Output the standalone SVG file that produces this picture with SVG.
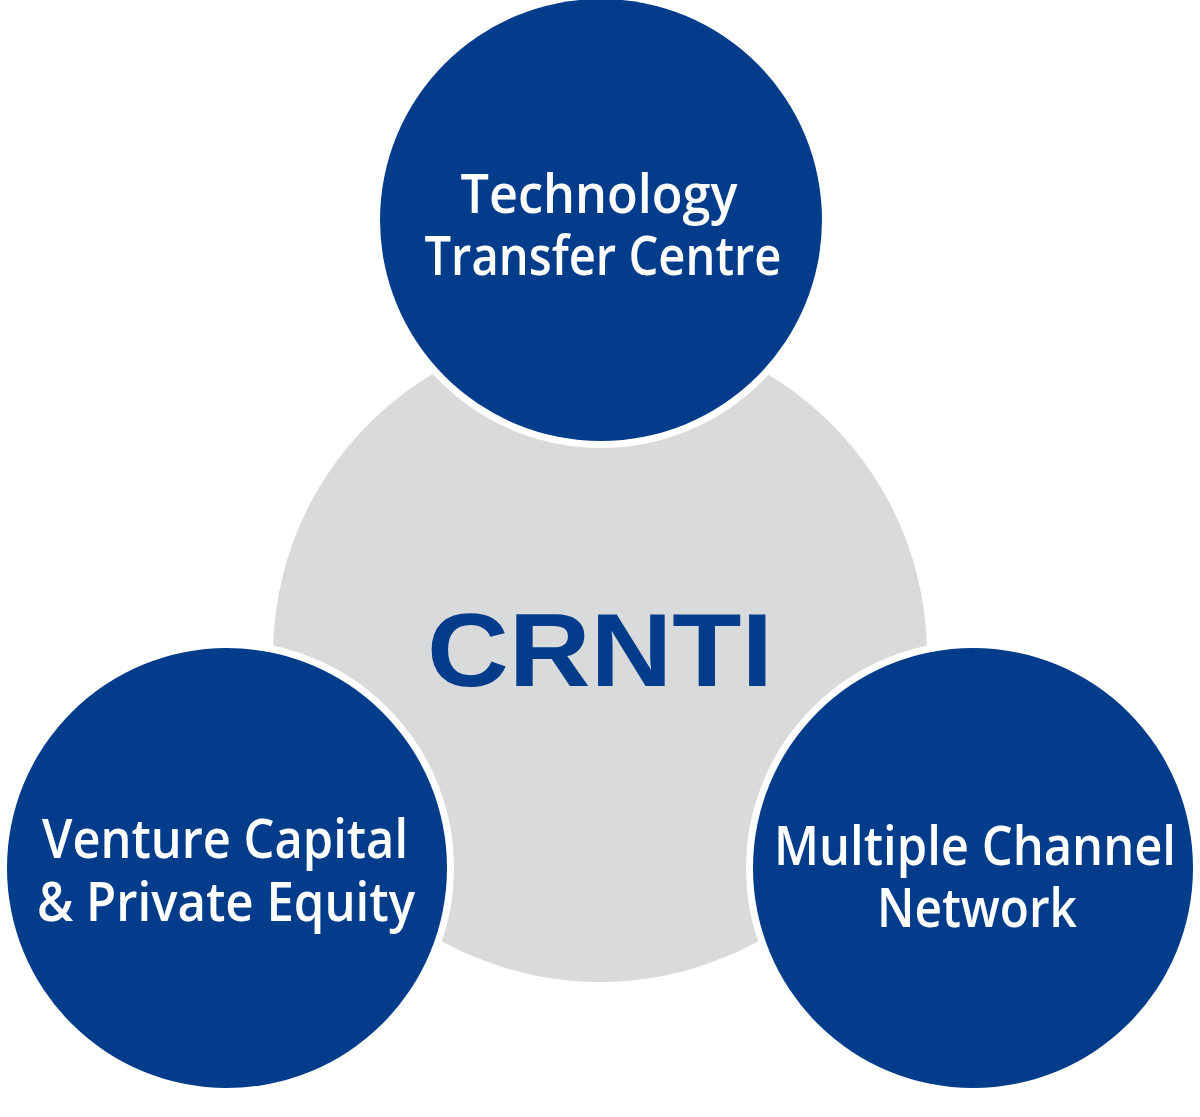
<svg xmlns="http://www.w3.org/2000/svg" width="1200" height="1117" viewBox="0 0 1200 1117">
<style>
.hub{fill:#d9dadc}
.node{fill:#023c8a;stroke:#ffffff;stroke-width:14;paint-order:stroke}
.lbl{fill:#ffffff;font-family:"Open Sans","Noto Sans","Liberation Sans",sans-serif;font-weight:600;font-size:55px;text-anchor:middle}
.hubtxt{fill:#023c8a;font-family:"Liberation Sans",Arial,sans-serif;font-weight:bold;font-size:103px;text-anchor:middle}
</style>
<rect width="1200" height="1117" fill="#ffffff"/>
<g id="connectors"></g>
<g id="hub">
<circle class="hub" cx="600" cy="655" r="327"/>
<text class="hubtxt" x="600" y="686" textLength="346" lengthAdjust="spacingAndGlyphs">CRNTI</text>
</g>
<g id="node-ttc">
<circle class="node" cx="601" cy="220" r="221"/>
<text class="lbl"><tspan x="599" y="213" textLength="277" lengthAdjust="spacingAndGlyphs">Technology</tspan><tspan x="603" y="275" textLength="357" lengthAdjust="spacingAndGlyphs">Transfer Centre</tspan></text>
</g>
<g id="node-vcpe">
<circle class="node" cx="227" cy="868" r="220"/>
<text class="lbl"><tspan x="225" y="858" textLength="366" lengthAdjust="spacingAndGlyphs">Venture Capital</tspan><tspan x="226" y="921" textLength="378" lengthAdjust="spacingAndGlyphs">&amp; Private Equity</tspan></text>
</g>
<g id="node-mcn">
<circle class="node" cx="973" cy="868" r="220"/>
<text class="lbl"><tspan x="975" y="865" textLength="402" lengthAdjust="spacingAndGlyphs">Multiple Channel</tspan><tspan x="977" y="927" textLength="200" lengthAdjust="spacingAndGlyphs">Network</tspan></text>
</g>
</svg>
